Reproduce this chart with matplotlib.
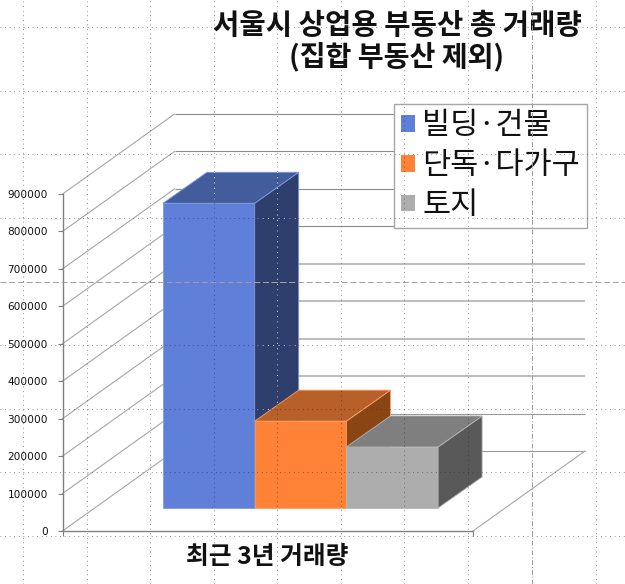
import matplotlib
matplotlib.use("Agg")
import matplotlib.pyplot as plt
from matplotlib.patches import Polygon, Patch

KR = ['Noto Sans CJK KR', 'DejaVu Sans']

title_lines = ["서울시 상업용 부동산 총 거래량", "(집합 부동산 제외)"]
x_category = "최근 3년 거래량"
series_names = ["빌딩·건물", "단독·다가구", "토지"]
series_values = [814000, 232000, 163000]
y_ticks = [0, 100000, 200000, 300000, 400000, 500000, 600000, 700000, 800000, 900000]

front_colors = ["#5f7fd8", "#ff8236", "#adadad"]
top_colors = ["#425c9c", "#b8602a", "#7f7f7f"]
side_colors = ["#2e3f6e", "#8a4514", "#595959"]
edge_colors = ["#7f9be0", "#ffa060", "#b5b5b5"]
wall_styles = {0: (1.0, "#999999"), 100000: (1.0, "#999999"), 200000: (1.8, "#bdbdbd"), 300000: (1.8, "#bdbdbd"),
               400000: (1.8, "#bdbdbd"), 500000: (1.8, "#bdbdbd"), 600000: (1.0, "#8c8c8c"),
               700000: (1.0, "#8c8c8c"), 800000: (1.0, "#8c8c8c"), 900000: (1.0, "#8c8c8c")}

W, H = 625, 584
fig = plt.figure(figsize=(W / 100, H / 100), dpi=100, facecolor="white")
ax = fig.add_axes([0, 0, 1, 1])

# layout: one bar width is 91.7 px, one value unit is 0.0003744 px
BAR_PX = 91.7
VAL_PX = 0.0003744
ax.set_xlim(-163 / BAR_PX, (W - 163) / BAR_PX)
ax.set_ylim(-(H - 531) / VAL_PX, 531 / VAL_PX)
ax.patch.set_alpha(0)


def dx(px):
    return px / BAR_PX


def dy(px):
    return px / VAL_PX


# frame
x0 = dx(62.5 - 163)
x1 = dx(473 - 163)
wall_dx, wall_dy = dx(112), dy(80)
for v in y_ticks:
    lw, col = wall_styles[v]
    ax.plot([x0, x0 + wall_dx], [v, v + wall_dy], color="#a6a6a6", lw=0.8, zorder=1)
    ax.plot([x0 + wall_dx, x1 + wall_dx], [v + wall_dy, v + wall_dy], color=col, lw=lw * 0.8, zorder=1,
            solid_capstyle="butt")
ax.plot([x1, x1 + wall_dx], [0, wall_dy], color="#a6a6a6", lw=0.8, zorder=1)

for s in ("top", "right"):
    ax.spines[s].set_visible(False)
ax.spines["left"].set_position(("data", x0))
ax.spines["left"].set_bounds(0, y_ticks[-1])
ax.spines["bottom"].set_position(("data", 0))
ax.spines["bottom"].set_bounds(x0, x1)
for s in ("left", "bottom"):
    ax.spines[s].set_color("#808080")
    ax.spines[s].set_linewidth(1.0)
ax.set_yticks(y_ticks)
ax.set_yticklabels([str(v) for v in y_ticks], fontsize=7.6, family="DejaVu Sans", color="#111111")
ax.tick_params(axis="y", length=3.6, width=0.8, color="#808080", pad=7)
ax.set_xticks([x0, x1])
ax.set_xticklabels(["", ""])
ax.tick_params(axis="x", length=3.6, width=0.8, color="#808080")

# bars
base = dy(23)
depth_x, depth_y = dx(44), dy(31)
clip_faces = []
for i, (v, fc, tc, sc, ec) in enumerate(zip(series_values, front_colors, top_colors, side_colors, edge_colors)):
    l, r = i, i + 1
    t = base + v
    z = 2 + i
    ax.add_patch(Polygon([(l, base), (r, base), (r, t), (l, t)], fc=fc, ec=ec, lw=0.6, zorder=z))
    top = Polygon([(l, t), (r, t), (r + depth_x, t + depth_y), (l + depth_x, t + depth_y)],
                  fc=tc, ec=ec, lw=0.6, zorder=z)
    side = Polygon([(r, base), (r + depth_x, base + depth_y), (r + depth_x, t + depth_y), (r, t)],
                   fc=sc, ec=ec, lw=0.6, zorder=z)
    ax.add_patch(side)
    ax.add_patch(top)
    if i == 0:
        clip_faces = [top, side]

ax.text(dx(267 - 163), dy(531 - 557), x_category, ha="center", va="center", family=KR,
        fontsize=17.8, fontweight="bold", color="#111111", zorder=6)

# title
ax.text(dx(397 - 163), dy(531 - 25), title_lines[0], ha="center", va="center", family=KR,
        fontsize=20.6, fontweight="bold", color="#111111", zorder=6)
ax.text(dx(397 - 163), dy(531 - 57), title_lines[1], ha="center", va="center", family=KR,
        fontsize=20.3, fontweight="bold", color="#111111", zorder=6)

# legend
handles = [Patch(fc=c, ec="none") for c in front_colors]
leg = ax.legend(handles, series_names, loc="upper left",
                bbox_to_anchor=(394 / W, 1 - 103.5 / H), bbox_transform=fig.transFigure,
                prop={"family": KR, "size": 22}, frameon=True, fancybox=False, framealpha=1,
                edgecolor="#a6a6a6", borderpad=0.22, labelspacing=0.29, handlelength=0.46,
                handleheight=0.46, handletextpad=0.24, borderaxespad=0)
leg.get_frame().set_linewidth(1.0)
leg.set_zorder(7)
for txt in leg.get_texts():
    txt.set_color("#111111")

# printed page guides on top of the chart
ov = fig.add_axes([0, 0, 1, 1], zorder=10)
ov.set_xlim(0, W)
ov.set_ylim(H, 0)
ov.axis("off")
ov.patch.set_alpha(0)
guide_x = [23, 87, 150, 214, 277, 341, 404, 468, 596]
guide_y = [27, 91, 154, 218, 345, 409, 472, 536]
dots = (0, (1, 4.5))
for gx in guide_x:
    ov.axvline(gx, color="#222222", lw=0.6, ls=dots, alpha=0.65)
for gy in guide_y:
    ov.axhline(gy, color="#222222", lw=0.6, ls=dots, alpha=0.65)
ov.axvline(532, color="#999999", lw=0.7, ls=(0, (5, 2, 1, 2)))
ov.axhline(282, color="#a0a0a0", lw=0.7, ls=(0, (6, 3)))

# guides read as light marks on the dark blue faces
for face in clip_faces:
    for gx in guide_x:
        ln = ax.axvline(dx(gx - 163), color="#e8e8e8", lw=0.7, ls=dots, zorder=2.5)
        ln.set_clip_path(face)
    for gy in guide_y:
        ln = ax.axhline(dy(531 - gy), color="#e8e8e8", lw=0.7, ls=dots, zorder=2.5)
        ln.set_clip_path(face)
    ln = ax.axhline(dy(531 - 282), color="#e8e8e8", lw=0.7, ls=(0, (6, 3)), zorder=2.5)
    ln.set_clip_path(face)

fig.savefig("out.png", dpi=100, facecolor="white")
